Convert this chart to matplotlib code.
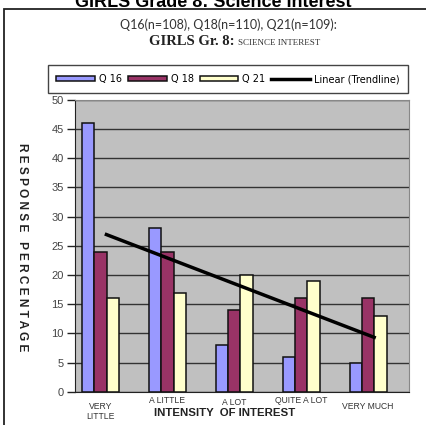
import matplotlib.pyplot as plt
import numpy as np
from matplotlib.patches import Rectangle

categories = ["VERY\nLITTLE", "A LITTLE", "A LOT", "QUITE A LOT", "VERY MUCH"]
q16 = [46, 28, 8, 6, 5]
q18 = [24, 24, 14, 16, 16]
q21 = [16, 17, 20, 19, 13]
series_names = ["Q 16", "Q 18", "Q 21"]
series_colors = ["#9999FF", "#993366", "#FFFFCC"]

fig = plt.figure(figsize=(4.26, 4.25), dpi=100)
ax = fig.add_axes([0.176, 0.078, 0.784, 0.687])

x = np.arange(len(categories))
w = 0.185
handles = []
for i, (vals, name, col) in enumerate(zip([q16, q18, q21], series_names, series_colors)):
    b = ax.bar(x + (i - 1) * w, vals, w, color=col, edgecolor="#111111", linewidth=1.1,
               label=name, zorder=3)
    handles.append(b)

# linear trendline through the category means
means = np.mean([q16, q18, q21], axis=0)
slope, icpt = np.polyfit(x, means, 1)
trend, = ax.plot(x + 0.09, slope * x + icpt, color="black", lw=2.5, zorder=4,
                 label="Linear (Trendline)")
handles.append(trend)

ax.set_facecolor("#C0C0C0")
ax.set_xlim(-0.38, 4.61)
ax.set_ylim(0, 50)
ax.set_yticks(np.arange(0, 51, 5))
ax.yaxis.grid(True, color="#333333", lw=1.0, zorder=1)
ax.set_axisbelow(True)
ax.tick_params(axis="y", direction="out", length=6, width=1, colors="#222222",
               labelcolor="#444444", labelsize=8, pad=2)
for lab in ax.get_yticklabels():
    lab.set_family("Liberation Sans")
ax.set_xticks([])
for s in ["top", "right"]:
    ax.spines[s].set_color("#888888")
ax.spines["left"].set_color("#222222")
ax.spines["bottom"].set_color("#222222")

# staggered category labels
label_y = [-0.035, -0.015, -0.02, -0.015, -0.035]
for xi, lab, yy in zip(x, categories, label_y):
    ax.text(xi, yy, lab, transform=ax.get_xaxis_transform(), ha="center", va="top",
            fontsize=6.2, family="Liberation Sans", color="#333333", linespacing=1.1)

fig.text(225 / 426, 1 - 413 / 425, "INTENSITY  OF INTEREST", ha="center", va="center",
         fontsize=8.2, fontweight="bold", family="Liberation Sans", color="#222222")
fig.text(22 / 426, 1 - 247 / 425, "R E S P O N S E   P E R C E N T A G E",
         rotation=270, ha="center", va="center", fontsize=8.6, fontweight="bold",
         family="Liberation Sans", color="#222222")

# titles
fig.text(213 / 426, 1 - 7 / 425, "GIRLS Grade 8: Science Interest", ha="center",
         va="baseline", fontsize=13, fontweight="bold", family="Liberation Sans")
fig.text(228 / 426, 1 - 25 / 425, "Q16(n=108), Q18(n=110), Q21(n=109):", ha="center",
         va="center", fontsize=9, family="Lato", color="#333333")
fig.text(238 / 426, 1 - 45 / 425, "GIRLS Gr. 8: ", ha="right", va="baseline",
         fontsize=10.5, fontweight="bold", family="Liberation Serif", color="#222222")
fig.text(238 / 426, 1 - 45 / 425, "SCIENCE INTEREST", ha="left", va="baseline",
         fontsize=6.5, family="Liberation Serif", color="#333333")

# outer frame
fig.add_artist(Rectangle((4 / 426, -0.1), 1.2, 1.1 - 9 / 425, transform=fig.transFigure,
                         fill=False, edgecolor="#222222", lw=1.3))

leg = fig.legend(handles=handles, labels=series_names + ["Linear (Trendline)"],
                 loc="center", bbox_to_anchor=(228 / 426, 1 - 79 / 425), ncol=4,
                 prop={"family": "DejaVu Sans", "size": 7},
                 handlelength=4.0, handleheight=0.5, handletextpad=0.4,
                 columnspacing=0.6, borderpad=0.9, borderaxespad=0, frameon=True,
                 fancybox=False, edgecolor="#444444", framealpha=1)
leg.get_frame().set_linewidth(1.0)

fig.savefig("out.png", dpi=100)
